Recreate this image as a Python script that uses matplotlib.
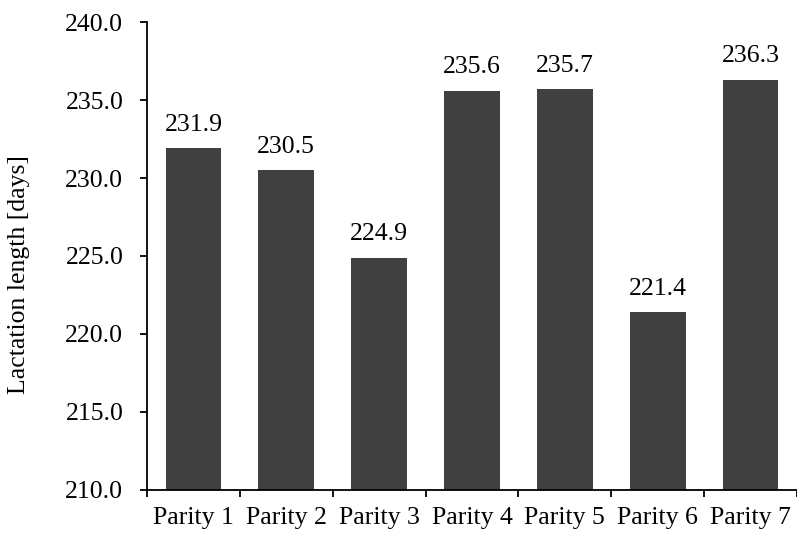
import matplotlib.pyplot as plt
import numpy as np

plt.rcParams['font.family'] = ['Liberation Serif', 'DejaVu Serif']

categories = ['Parity 1', 'Parity 2', 'Parity 3', 'Parity 4', 'Parity 5', 'Parity 6', 'Parity 7']
values = [231.9, 230.5, 224.9, 235.6, 235.7, 221.4, 236.3]

fig = plt.figure(figsize=(7.97, 5.33), dpi=100)
ax = fig.add_axes([0.1844, 0.0807, 0.8156, 0.878])

x = np.arange(len(categories))
ax.bar(x, values, width=0.6, color='#404040', bottom=0)
for xi, v in zip(x, values):
    ax.annotate(f'{v:.1f}', (xi, v), xytext=(0, 9), textcoords='offset points',
                ha='center', va='bottom', fontsize=18.5)

ax.set_ylim(210, 240)
ax.set_xlim(-0.5, len(categories) - 0.5)
ax.set_yticks(np.arange(210, 240.1, 5))
ax.set_yticklabels([f'{t:.1f}' for t in np.arange(210, 240.1, 5)], fontsize=18.5)
ax.set_xticks(x)
ax.set_xticklabels(categories, fontsize=18.5)
ax.tick_params(axis='x', length=0, pad=12)
ax.set_xticks(np.arange(-0.5, len(categories)), minor=True)
ax.tick_params(axis='x', which='minor', length=5, width=1.3, direction='out')
ax.tick_params(axis='y', length=5, width=1.3, direction='out', pad=12)
ax.set_ylabel('Lactation length [days]', fontsize=18.5)
ax.yaxis.set_label_coords(-0.18, 0.46)

for s in ['top', 'right']:
    ax.spines[s].set_visible(False)
for s in ['left', 'bottom']:
    ax.spines[s].set_linewidth(1.3)

plt.savefig('out.png', dpi=100)
